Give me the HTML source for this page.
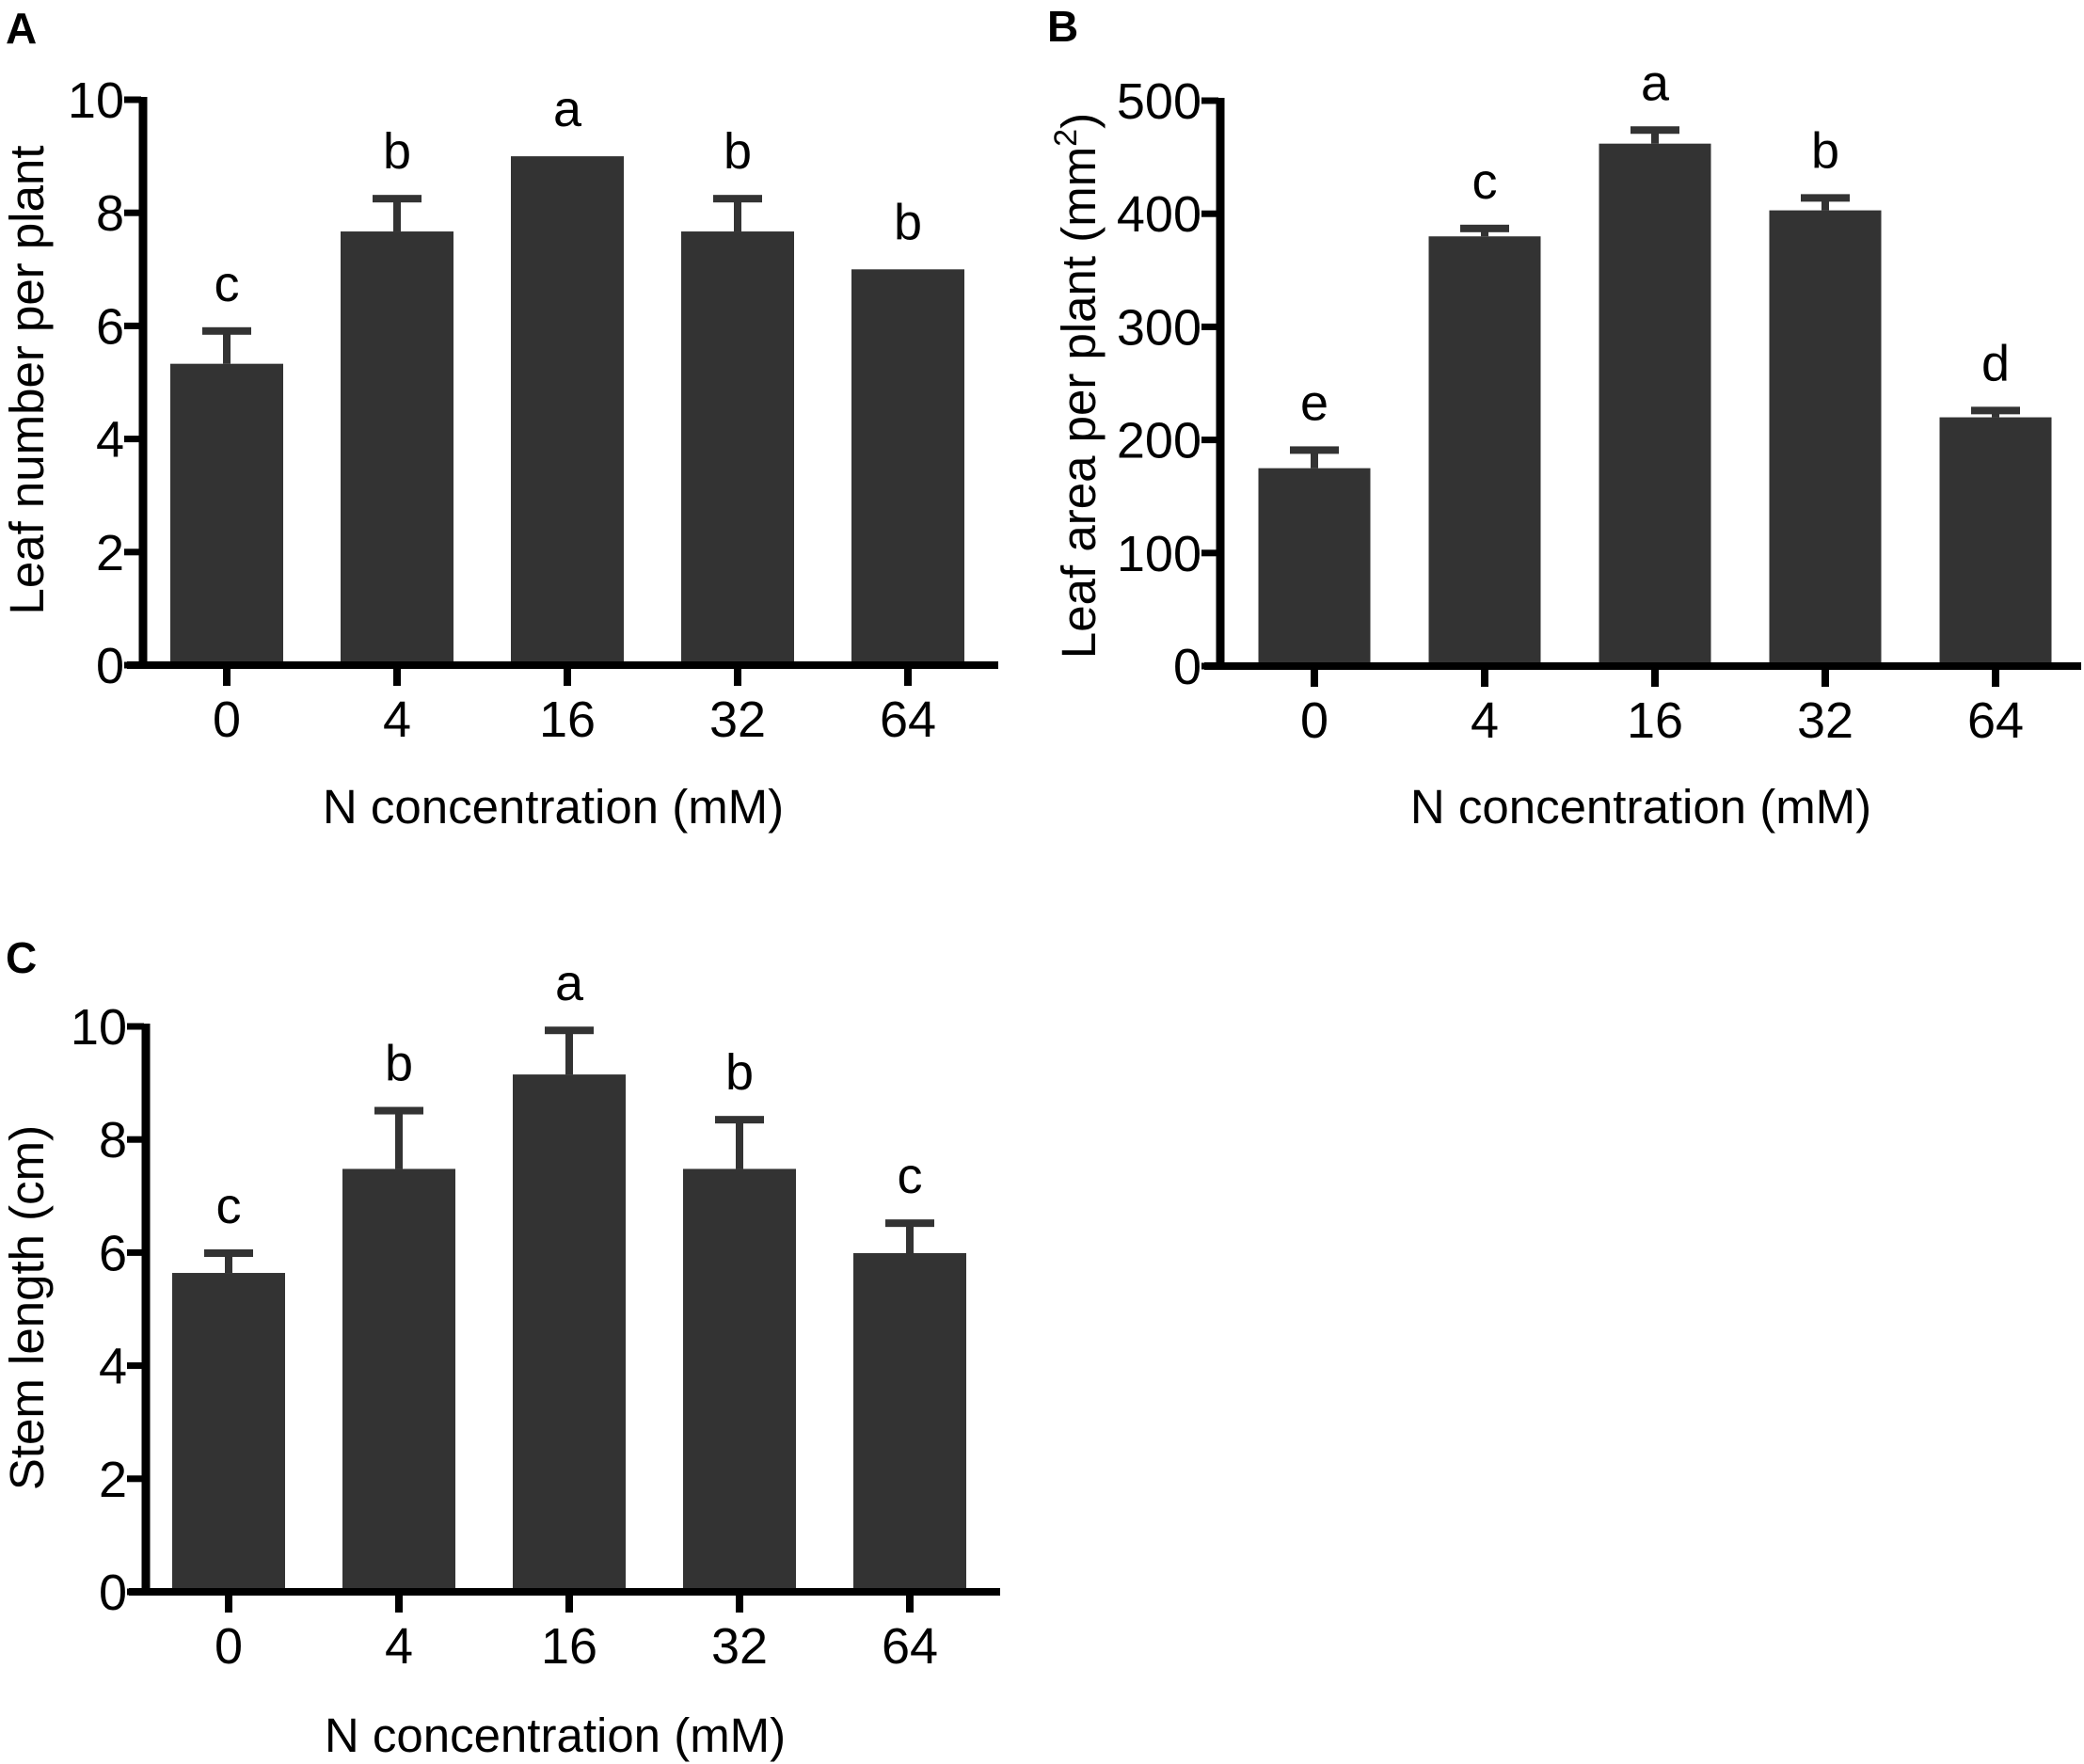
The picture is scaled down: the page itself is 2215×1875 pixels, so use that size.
<!DOCTYPE html>
<html><head><meta charset="utf-8"><style>
html,body{margin:0;padding:0;background:#fff}
svg{display:block}
text{font-family:"Liberation Sans",Arial,sans-serif;fill:#000}
</style></head><body>
<svg id="fig" width="2215" height="1875" viewBox="0 0 2215 1875" xmlns="http://www.w3.org/2000/svg">
<text x="6" y="46" font-size="46" font-weight="bold">A</text>
<text x="1113" y="44" font-size="46" font-weight="bold">B</text>
<text x="6" y="1034" font-size="46" font-weight="bold">C</text>
</svg>
<script>
const categories = ["0","4","16","32","64"];
const leafNumber = [5.33, 7.67, 9.0, 7.67, 7.0];
const leafNumberErr = [0.58, 0.58, 0, 0.58, 0];
const leafNumberLetters = ["c","b","a","b","b"];
const leafArea = [175, 380, 462, 403, 220];
const leafAreaErr = [16, 7, 12, 11, 6];
const leafAreaLetters = ["e","c","a","b","d"];
const stemLength = [5.64, 7.48, 9.15, 7.48, 5.99];
const stemLengthErr = [0.35, 1.03, 0.78, 0.87, 0.53];
const stemLengthLetters = ["c","b","a","b","c"];
const ticksA = [0,2,4,6,8,10];
const ticksB = [0,100,200,300,400,500];
const ticksC = [0,2,4,6,8,10];

const NS = "http://www.w3.org/2000/svg";
const svg = document.getElementById("fig");
function mk(tag, attrs, parent){
  const e = document.createElementNS(NS, tag);
  for (const k in attrs) e.setAttribute(k, attrs[k]);
  (parent||svg).appendChild(e);
  return e;
}

function panel(cfg){
  const g = mk("g", {});
  
  
  const y = v => cfg.y0 - (v - cfg.min) / (cfg.max - cfg.min) * (cfg.y0 - cfg.y1);
  const x = i => cfg.cx0 + i * cfg.step;
  cfg.values.forEach((v, i) => {
    const top = y(v);
    const bar = mk("rect", {x: x(i) - cfg.bw/2, y: top, width: cfg.bw, height: cfg.y0 - top, fill: "#333333"}, g);
    
    
    const e = cfg.errs[i];
    let topE = top;
    if (e > 0) {
      topE = y(v + e);
      const eb = mk("g", {}, g);
      
      
      mk("rect", {x: x(i) - 4, y: topE, width: 8, height: top - topE, fill: "#333333"}, eb);
      mk("rect", {x: x(i) - 26, y: topE - 4, width: 52, height: 8, fill: "#333333"}, eb);
    }
    const lt = mk("text", {x: x(i), y: topE - 32, "font-size": 54, "text-anchor": "middle"}, g);
    lt.textContent = cfg.letters[i];
    
    
    mk("rect", {x: x(i) - 4, y: cfg.y0, width: 8, height: 22, fill: "#000"}, g);
    const tl = mk("text", {x: x(i), y: cfg.y0 + 76, "font-size": 54, "text-anchor": "middle"}, g);
    tl.textContent = cfg.cats[i];
    
    
  });
  const ya = mk("rect", {x: cfg.ax - 4.5, y: cfg.y1 - 3, width: 9, height: cfg.y0 - cfg.y1 + 6, fill: "#000"}, g);
  
  
  cfg.ticks.forEach(t => {
    mk("rect", {x: cfg.ax - 20, y: y(t) - 3.5, width: 18, height: 7, fill: "#000"}, g);
    const tt = mk("text", {x: cfg.ax - 20, y: y(t) + 19, "font-size": 54, "text-anchor": "end"}, g);
    tt.textContent = t;
    
    
  });
  const xa = mk("rect", {x: cfg.xaL, y: cfg.y0 - 4, width: cfg.xaR - cfg.xaL, height: 8, fill: "#000"}, g);
  
  
  const xt = mk("text", {x: cfg.xtx, y: cfg.xty, "font-size": 51, "text-anchor": "middle"}, g);
  xt.textContent = "N concentration (mM)";
  
  
  const yt = mk("text", {x: 0, y: 0, "font-size": 51, "text-anchor": "middle", transform: "translate(" + (cfg.ytx + 18) + "," + cfg.yty + ") rotate(-90)"}, g);
  
  
  if (cfg.sup) {
    yt.appendChild(document.createTextNode(cfg.ytitle));
    const s = mk("tspan", {"font-size": 34, dy: -20}, yt);
    s.textContent = "2";
    const s2 = mk("tspan", {dy: 20}, yt);
    s2.textContent = ")";
  } else yt.textContent = cfg.ytitle;
}

panel({name:"panel-a-leaf-number", cats:categories, values:leafNumber, errs:leafNumberErr, letters:leafNumberLetters,
  ticks:ticksA, min:0, max:10, y0:707, y1:106, ax:152, cx0:241, step:181, bw:120, xaL:135, xaR:1061,
  xtx:588, xty:875, ytx:28, yty:404, ytitle:"Leaf number per plant"});
panel({name:"panel-b-leaf-area", cats:categories, values:leafArea, errs:leafAreaErr, letters:leafAreaLetters,
  ticks:ticksB, min:0, max:500, y0:708, y1:107, ax:1297, cx0:1397, step:181, bw:119, xaL:1280, xaR:2212,
  xtx:1744, xty:875, ytx:1146, yty:410, ytitle:"Leaf area per plant (mm", sup:true});
panel({name:"panel-c-stem-length", cats:categories, values:stemLength, errs:stemLengthErr, letters:stemLengthLetters,
  ticks:ticksC, min:0, max:10, y0:1692, y1:1091, ax:155, cx0:243, step:181, bw:120, xaL:137, xaR:1063,
  xtx:590, xty:1862, ytx:28, yty:1390, ytitle:"Stem length (cm)"});
</script>
</body></html>
